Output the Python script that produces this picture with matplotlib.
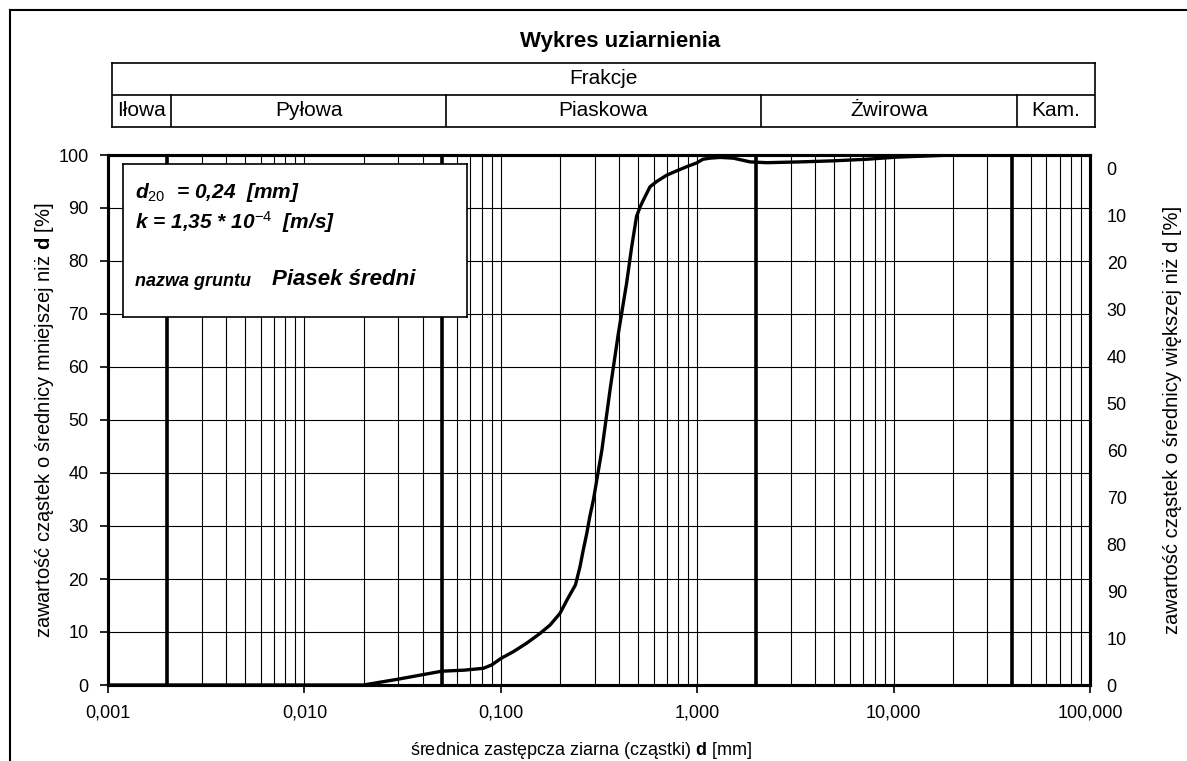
import numpy as np
import matplotlib
matplotlib.use('Agg')
import matplotlib.pyplot as plt
from matplotlib.lines import Line2D
from matplotlib.ticker import NullFormatter

plt.rcParams['font.family'] = ['Liberation Sans', 'DejaVu Sans']
plt.rcParams['mathtext.fontset'] = 'custom'
plt.rcParams['mathtext.rm'] = 'Liberation Sans'
plt.rcParams['mathtext.bf'] = 'Liberation Sans:bold'
plt.rcParams['mathtext.it'] = 'Liberation Sans:italic:bold'

# grain size curve
d_mm = [0.001, 0.02, 0.03, 0.05, 0.065, 0.0815, 0.09, 0.1, 0.116, 0.1355,
        0.158, 0.178, 0.2, 0.217, 0.24, 0.253, 0.263, 0.274, 0.284, 0.296,
        0.327, 0.36, 0.397, 0.437, 0.464, 0.491, 0.512, 0.532, 0.575, 0.622,
        0.7, 0.785, 0.885, 0.993, 1.07, 1.16, 1.31, 1.53, 1.86, 2.26, 3.34,
        4.93, 7.3, 10.4, 20, 100]
passing = [0, 0, 1.1, 2.6, 2.8, 3.15, 3.8, 5.0, 6.3, 7.9,
           9.7, 11.3, 13.5, 16.0, 18.9, 22.3, 25.5, 28.6, 31.8, 34.9,
           44.3, 55.7, 66.4, 75.8, 82.7, 88.4, 90.2, 91.5, 94.0, 95.0,
           96.2, 97.0, 97.8, 98.5, 99.2, 99.4, 99.55, 99.4, 98.7, 98.55, 98.7,
           98.9, 99.2, 99.6, 100, 100]

decades = [0.001, 0.01, 0.1, 1, 10, 100]
x_labels = ['0,001', '0,010', '0,100', '1,000', '10,000', '100,000']
y_ticks = [0, 10, 20, 30, 40, 50, 60, 70, 80, 90, 100]
right_labels_top_down = ['0', '10', '20', '30', '40', '50', '60', '70', '80', '90', '10', '0']

fractions = ['Iłowa', 'Pyłowa', 'Piaskowa', 'Żwirowa', 'Kam.']
bounds = [0.001, 0.002, 0.05, 2, 40, 100]

d20_text = r'$\mathit{d_{20}}$  = 0,24  [mm]'
k_text = r'k = 1,35 * 10$^{\mathit{-4}}$  [m/s]'
soil_name = 'Piasek średni'

W, H = 1187, 761
fig = plt.figure(figsize=(W / 100, H / 100), dpi=100)


def box(l, t, r, b):
    return [l / W, 1 - b / H, (r - l) / W, (b - t) / H]


# page frame (scan border)
fig.add_artist(Line2D([10 / W, 10 / W], [0, 1 - 10 / H], color='k', lw=1.5))
fig.add_artist(Line2D([10 / W, 1], [1 - 10 / H, 1 - 10 / H], color='k', lw=1.5))

fig.text(620 / W, 1 - 42 / H, 'Wykres uziarnienia', ha='center', va='center',
         fontsize=16, fontweight='bold')

# header table with fractions
hx = fig.add_axes(box(112, 63, 1095, 127))
hx.set_xscale('log')
hx.set_xlim(0.001, 100)
hx.set_ylim(0, 2)
hx.set_xticks([])
hx.set_yticks([])
hx.minorticks_off()
hx.axhline(1, color='k', lw=1.2)
for b in bounds[1:-1]:
    hx.plot([b, b], [0, 1], color='k', lw=1.2)
for s in hx.spines.values():
    s.set_linewidth(1.2)
hx.text(np.sqrt(0.001 * 100), 1.5, 'Frakcje', ha='center', va='center', fontsize=15)
for name, a, b in zip(fractions, bounds[:-1], bounds[1:]):
    hx.text(np.sqrt(a * b), 0.5, name, ha='center', va='center', fontsize=15)

# main chart
ax = fig.add_axes(box(108, 155, 1090, 685))
ax.set_xscale('log')
ax.set_xlim(0.001, 100)
ax.set_ylim(0, 100)
ax.set_xticks(decades)
ax.set_xticklabels(x_labels)
minor = [m * 10.0 ** e for e in range(-3, 2) for m in range(2, 10)]
ax.set_xticks(minor, minor=True)
ax.xaxis.set_minor_formatter(NullFormatter())
ax.tick_params(axis='x', which='minor', length=0)
ax.tick_params(axis='both', which='major', direction='out', length=6,
               width=1.2, labelsize=13, pad=8)
ax.set_yticks(y_ticks)
ax.grid(which='both', axis='x', color='k', lw=0.8)
ax.grid(which='major', axis='y', color='k', lw=0.8)
for b in bounds[1:-1]:
    ax.axvline(b, color='k', lw=2.6)
ax.plot(d_mm, passing, color='k', lw=2.4, solid_capstyle='round',
        solid_joinstyle='round', zorder=5)
for s in ax.spines.values():
    s.set_linewidth(2.2)

ax.set_xlabel('średnica zastępcza ziarna (cząstki) $\\mathbf{d}$ [mm]', fontsize=13)
ax.xaxis.set_label_coords((581 - 108) / 982, -(740 - 685) / 530)
ax.set_ylabel('zawartość cząstek o średnicy mniejszej niż $\\mathbf{d}$ [%]', fontsize=14.5)
ax.yaxis.set_label_coords((56 - 108) / 982, 0.5)

ax2 = ax.twinx()
ax2.set_ylim(0, 100)
ax2.set_yticks(np.linspace(0, 97.5, len(right_labels_top_down)))
ax2.set_yticklabels(right_labels_top_down[::-1])
ax2.tick_params(axis='y', length=0, labelsize=13, pad=12)
for s in ax2.spines.values():
    s.set_linewidth(2.2)
ax2.set_ylabel('zawartość cząstek o średnicy większej niż d [%]', fontsize=14.5)
ax2.yaxis.set_label_coords((1163 - 108) / 982, 0.5)

# info box
tb = fig.add_axes(box(123, 164, 467, 317))
tb.set_xticks([])
tb.set_yticks([])
for s in tb.spines.values():
    s.set_linewidth(1.2)


def fx(px):
    return (px - 123) / 344


def fy(py):
    return 1 - (py - 164) / 153


tb.text(fx(135), fy(192), d20_text, fontsize=15, fontweight='bold', style='italic', va='center')
tb.text(fx(135), fy(222), k_text, fontsize=15, fontweight='bold', style='italic', va='center')
tb.text(fx(135), fy(281), 'nazwa gruntu', fontsize=13, fontweight='bold', style='italic', va='center')
tb.text(fx(272), fy(279), soil_name, fontsize=16, fontweight='bold', style='italic', va='center')

fig.savefig('out.png', dpi=100)
